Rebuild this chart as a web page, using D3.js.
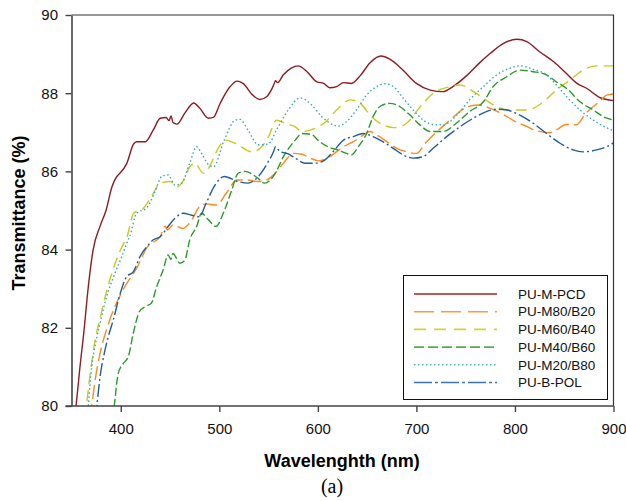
<!DOCTYPE html>
<html lang="en">
<head>
<meta charset="UTF-8">
<script src="https://d3js.org/d3.v7.min.js"></script>
<style>
  body { margin: 0; background: white; }
  svg { display: block; }
</style>
</head>
<body>
<script>
const w = 626, h = 501;
const plotLeft = 71.5, plotRight = 613.5, plotTop = 15, plotBottom = 406;

// [wavelength nm, transmittance %]
const pcd = [[352,79.5],[355,80.1],[358.6,81.0],[363,82.0],[366,82.8],[372,84.0],[379,84.6],[385,85.0],[391,85.6],[397,85.9],[399,85.95],[406,86.2],[413,86.7],[416,86.76],[425,86.76],[433,87.06],[440,87.36],[446,87.38],[449,87.3],[451,87.42],[453,87.25],[457,87.21],[465,87.49],[474,87.75],[480,87.62],[489,87.36],[494,87.38],[501,87.75],[511,88.17],[518,88.31],[524,88.25],[534,87.95],[541,87.84],[548,87.91],[555,88.2],[557,88.32],[559,88.27],[565,88.47],[573,88.64],[580,88.7],[589,88.55],[599,88.29],[606,88.25],[612,88.14],[619,88.17],[626,88.27],[634,88.25],[643,88.45],[653,88.78],[664,88.95],[673,88.87],[686,88.6],[700,88.25],[714,88.08],[727,88.04],[737,88.17],[751,88.45],[763,88.75],[775,89.02],[788,89.27],[802,89.38],[812,89.32],[825,89.06],[839,88.81],[852,88.51],[863,88.25],[873,88.12],[886,87.89],[900,87.81]];

const m80b20 = [[369,79.7],[370.5,80.0],[374,80.66],[379,81.35],[386,81.99],[394,82.54],[404,83.05],[416,83.52],[427,84.07],[440,84.33],[445,84.6],[447,84.5],[453,84.63],[463,84.54],[472,84.76],[480,85.1],[487,85.17],[497,85.14],[507,85.44],[518,85.78],[528,85.78],[539,85.74],[548,85.78],[558,85.99],[565,86.21],[575,86.46],[584,86.44],[592,86.34],[601,86.27],[612,86.38],[626,86.63],[636,86.76],[646,86.93],[653,87.02],[660,86.93],[670,86.76],[680,86.59],[690,86.5],[700,86.46],[709,86.72],[721,87.02],[734,87.31],[744,87.53],[754,87.67],[764,87.7],[776,87.6],[788,87.46],[800,87.28],[812,87.15],[822,87.04],[836,86.99],[842,87.06],[852,87.2],[862,87.19],[872,87.49],[886,87.79],[893,87.95],[900,87.98]];

const m60b40 = [[363,79.7],[365,80.0],[369,80.84],[374,81.69],[379,82.24],[385,82.88],[392,83.48],[399,83.95],[403,84.16],[406,84.3],[413,84.93],[423,85.06],[431,85.35],[440,85.7],[450,85.74],[457,85.61],[463,85.74],[470,86.12],[475,86.21],[484,85.95],[490,86.12],[498,86.55],[506,86.8],[516,86.72],[533,86.5],[543,86.63],[550,86.89],[558,87.31],[567,87.23],[577,87.14],[584,87.02],[597,87.1],[606,87.23],[619,87.57],[633,87.83],[643,87.74],[653,87.44],[666,87.19],[678,87.12],[690,87.23],[704,87.66],[717,88.0],[731,88.15],[744,88.21],[758,88.04],[768,87.87],[781,87.66],[795,87.57],[812,87.57],[829,87.78],[842,88.08],[856,88.34],[869,88.59],[883,88.7],[900,88.7]];

const m40b60 = [[392,79.7],[393.4,80.0],[397.5,80.84],[402.6,81.09],[407.6,81.26],[412.7,81.86],[418.8,82.41],[424.6,82.54],[431,82.63],[436.4,83.05],[443,83.48],[448,83.86],[451,83.75],[453,83.9],[460,83.65],[465,83.73],[470,84.25],[477,84.59],[482,84.93],[489,84.76],[496.6,84.59],[504,84.93],[512.6,85.52],[519,85.95],[526,86.0],[538,85.85],[546,85.7],[556,85.92],[566,86.42],[577,86.8],[584,86.97],[594,86.94],[600,86.8],[610,86.63],[620,86.55],[629,86.46],[634,86.42],[641,86.63],[649.5,86.97],[656,87.4],[663,87.66],[673,87.74],[683,87.66],[693.5,87.44],[703.6,87.19],[713.8,87.02],[727,87.02],[740.5,87.23],[754,87.53],[768,87.78],[778,88.17],[791.6,88.42],[805,88.59],[818.6,88.55],[832,88.47],[842,88.29],[852.5,88.12],[866,87.78],[879.5,87.57],[889.6,87.4],[900,87.31]];

const m20b80 = [[366,79.7],[367,80.0],[370.5,81.0],[373.8,81.52],[379,82.12],[385.7,82.8],[394,83.39],[401,83.82],[407.6,84.25],[409,84.33],[416,84.93],[426,85.06],[434.7,85.48],[441.5,85.87],[448,85.91],[455,85.65],[461.8,85.7],[470,86.21],[477,86.63],[482,86.46],[490,86.15],[494,86.12],[505,86.8],[516,87.31],[521,87.33],[529,87.06],[539.5,86.68],[549.7,86.7],[558,87.06],[570,87.57],[582,87.88],[593.7,87.7],[604,87.4],[615.6,87.19],[621,87.16],[629,87.27],[639,87.57],[649.5,87.95],[659.7,88.17],[668,88.24],[676.5,88.17],[686.7,87.87],[696.8,87.57],[707,87.31],[717,87.2],[727,87.19],[741,87.44],[754,87.83],[768,88.17],[781.5,88.47],[795,88.64],[805,88.7],[818.6,88.61],[832,88.47],[842,88.21],[852.5,87.91],[866,87.57],[879.5,87.31],[889.6,87.16],[900,87.04]];

const bpol = [[374,79.7],[375.6,80.0],[379,80.75],[383.3,81.35],[387.3,81.77],[392.4,82.2],[399,82.84],[406,83.31],[412.7,83.43],[419.5,83.82],[428,84.12],[433,84.25],[440,84.33],[448,84.59],[455,84.8],[463.4,84.93],[472,84.88],[480,84.84],[486,85.15],[495.6,85.65],[505,85.87],[519,85.74],[529,85.7],[539.5,85.87],[549.7,86.25],[555,86.5],[557,86.63],[562,86.5],[570,86.45],[577,86.34],[587,86.21],[597,86.21],[607,86.29],[617,86.55],[626,86.8],[636,86.89],[646,86.97],[656,86.89],[666,86.76],[676.5,86.59],[686.7,86.42],[697,86.34],[707,86.38],[717,86.59],[730.7,86.89],[744,87.14],[757.7,87.36],[771,87.53],[781.5,87.59],[791.6,87.57],[805,87.44],[818.6,87.23],[832,86.97],[845.7,86.72],[859,86.55],[869,86.5],[883,86.55],[893,86.63],[900,86.73]];

const seriesNames = ["PU-M-PCD", "PU-M80/B20", "PU-M60/B40", "PU-M40/B60", "PU-M20/B80", "PU-B-POL"];
const seriesData = [pcd, m80b20, m60b40, m40b60, m20b80, bpol];
const xTicks = [400, 500, 600, 700, 800, 900];
const yTicks = [80, 82, 84, 86, 88, 90];

const colors = ["#8e1b1f", "#ff8a1e", "#c9c922", "#2a9a2a", "#32aab2", "#1f5c9c"];
const legendColors = ["#a52226", "#ff9a3c", "#d2d23c", "#50b050", "#4ab8bc", "#3e74b0"];
const dashes = [null, "14,5", "11,6", "8,3", "1.5,2.5", "13,3,2,3"];
const legendDashes = [null, "20,7", "12,8", "10,4", "1.5,2.5", "18,3,3,3"];

const xScale = d3.scaleLinear().domain([350, 900]).range([plotLeft, plotRight]);
const yScale = d3.scaleLinear().domain([80, 90]).range([plotBottom, plotTop]);

const svg = d3.select("body").append("svg")
    .attr("width", w)
    .attr("height", h)
    .style("font-family", "'Liberation Sans', Arial, sans-serif");

svg.append("clipPath").attr("id", "plotclip")
    .append("rect")
    .attr("x", plotLeft).attr("y", plotTop)
    .attr("width", plotRight - plotLeft).attr("height", plotBottom - plotTop);

// lines
const line = d3.line()
    .x(d => xScale(d[0]))
    .y(d => yScale(d[1]))
    .curve(d3.curveMonotoneX);

const plot = svg.append("g").attr("clip-path", "url(#plotclip)");
seriesData.forEach((data, i) => {
    plot.append("path")
        .datum(data)
        .attr("d", line)
        .attr("fill", "none")
        .attr("stroke", colors[i])
        .attr("stroke-width", 1.4)
        .attr("stroke-dasharray", dashes[i]);
});

// frame (top + right)
svg.append("path")
    .attr("d", `M${plotLeft},${plotTop}H${plotRight}V${plotBottom}`)
    .attr("fill", "none")
    .attr("stroke", "#333")
    .attr("stroke-width", 1.2);

// axes
const xAxis = d3.axisBottom(xScale).tickValues(xTicks).tickSize(6).tickSizeOuter(0).tickPadding(11);
const yAxis = d3.axisLeft(yScale).tickValues(yTicks).tickSize(6).tickSizeOuter(0).tickPadding(7.5);

const gx = svg.append("g")
    .attr("transform", `translate(0,${plotBottom})`)
    .call(xAxis);
gx.select(".domain").attr("d", `M${plotLeft - 6},0H${plotRight}`);

const gy = svg.append("g")
    .attr("transform", `translate(${plotLeft},0)`)
    .call(yAxis);

[gx, gy].forEach(g => {
    g.select(".domain").attr("stroke", "#444").attr("stroke-width", 1.6);
    g.selectAll(".tick line").attr("stroke", "#444").attr("stroke-width", 1.4);
    g.selectAll(".tick text")
        .attr("fill", "#111")
        .style("font-size", "15px")
        .style("font-family", "'Liberation Sans', Arial, sans-serif");
});

// axis titles
svg.append("text")
    .attr("x", 342)
    .attr("y", 467)
    .attr("text-anchor", "middle")
    .style("font-size", "18px")
    .style("font-weight", "bold")
    .text("Wavelenghth (nm)");

svg.append("text")
    .attr("transform", "rotate(-90)")
    .attr("x", -213)
    .attr("y", 25)
    .attr("text-anchor", "middle")
    .style("font-size", "18px")
    .style("font-weight", "bold")
    .text("Transmittance (%)");

svg.append("text")
    .attr("x", 332)
    .attr("y", 493)
    .attr("text-anchor", "middle")
    .style("font-family", "'Liberation Serif', 'Times New Roman', serif")
    .style("font-size", "20px")
    .text("(a)");

// legend
const legend = svg.append("g").attr("id", "legend");
legend.append("rect")
    .attr("x", 403.5).attr("y", 275.5)
    .attr("width", 204).attr("height", 124)
    .attr("fill", "white")
    .attr("stroke", "#111")
    .attr("stroke-width", 1);

seriesNames.forEach((name, i) => {
    const yy = 294 + i * 17.7;
    legend.append("line")
        .attr("x1", 414).attr("x2", 497)
        .attr("y1", yy).attr("y2", yy)
        .attr("stroke", legendColors[i])
        .attr("stroke-width", 1.6)
        .attr("stroke-dasharray", legendDashes[i]);
    legend.append("text")
        .attr("x", 518)
        .attr("y", yy)
        .attr("dy", "0.35em")
        .style("font-size", "13.5px")
        .attr("fill", "#111")
        .text(name);
});
</script>
</body>
</html>
